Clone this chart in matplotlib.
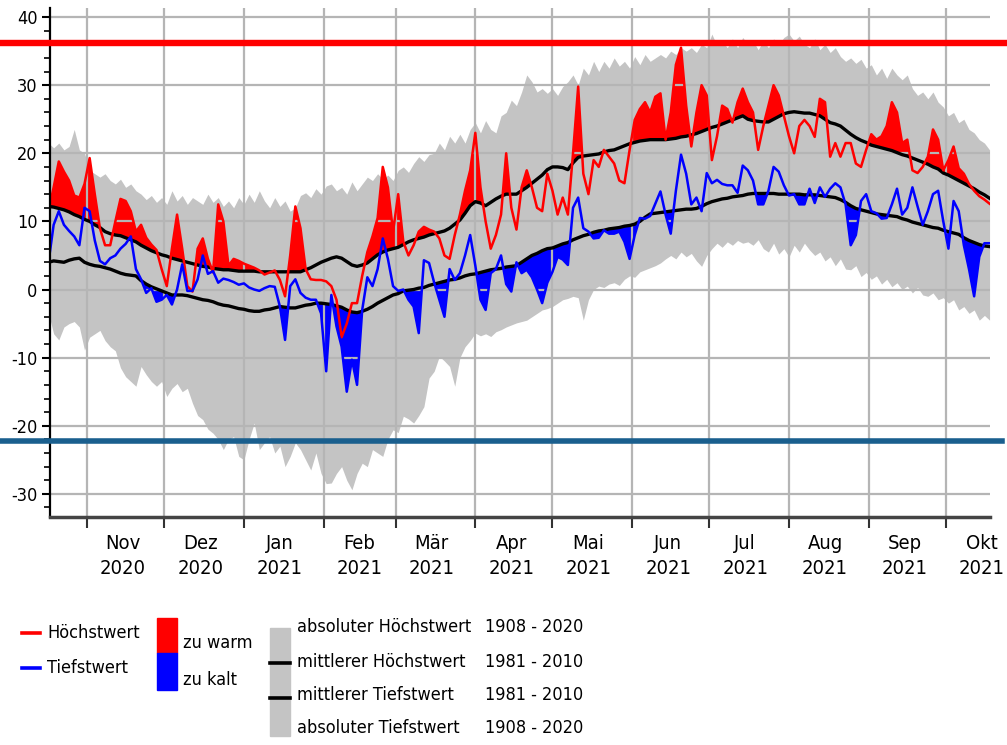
import matplotlib
matplotlib.use("Agg")
import matplotlib.pyplot as plt
import matplotlib.dates as mdates
from matplotlib.lines import Line2D
from matplotlib.patches import Rectangle
from matplotlib.ticker import MultipleLocator
import pandas as pd

plt.rcParams["font.family"] = ["DejaVu Sans"]
plt.rcParams["font.stretch"] = "condensed"
plt.rcParams["axes.unicode_minus"] = False

# every second day, 17 Oct 2020 .. 18 Oct 2021
days = pd.date_range("2020-10-17", periods=184, freq="2D")

mean_max = [
    12.2, 12.1, 11.9, 11.7, 11.4, 11.0, 10.7, 10.3, 10.0, 9.5,
    9.1, 8.5, 8.2, 8.0, 7.9, 7.6, 7.3, 7.0, 6.5, 6.1,
    5.7, 5.4, 5.1, 4.9, 4.6, 4.4, 4.2, 4.0, 3.8, 3.6,
    3.4, 3.3, 3.1, 3.0, 2.9, 2.9, 2.8, 2.7, 2.7, 2.7,
    2.7, 2.6, 2.6, 2.6, 2.6, 2.6, 2.6, 2.6, 2.6, 2.6,
    2.9, 3.2, 3.6, 4.0, 4.3, 4.6, 4.8, 4.6, 4.1, 3.6,
    3.4, 3.6, 3.9, 4.5, 5.1, 5.5, 5.8, 6.0, 6.2, 6.6,
    7.0, 7.3, 7.5, 7.7, 8.0, 8.2, 8.4, 8.6, 9.0, 9.6,
    10.2, 11.2, 12.3, 12.9, 12.7, 12.3, 12.8, 13.3, 13.7, 14.0,
    14.0, 14.0, 14.5, 15.0, 15.6, 16.2, 16.8, 17.6, 18.0, 18.0,
    17.9, 17.6, 18.6, 19.4, 19.6, 19.7, 19.8, 19.9, 20.2, 20.4,
    20.5, 20.8, 21.1, 21.4, 21.6, 21.8, 21.9, 22.0, 22.0, 22.0,
    22.0, 22.1, 22.2, 22.4, 22.5, 22.7, 22.9, 23.2, 23.5, 23.8,
    24.0, 24.3, 24.6, 24.9, 25.2, 25.5, 25.0, 24.8, 24.7, 24.6,
    24.6, 25.0, 25.4, 25.8, 26.0, 26.1, 26.0, 25.9, 25.9, 25.7,
    25.5, 25.0, 24.5, 24.3, 24.0, 23.4, 22.8, 22.3, 21.9, 21.6,
    21.2, 21.0, 20.8, 20.6, 20.4, 20.1, 19.8, 19.6, 19.3, 19.0,
    18.7, 18.4, 18.0, 17.7, 17.1, 16.8, 16.4, 16.0, 15.6, 15.2,
    14.8, 14.3, 13.9, 13.4,
]

mean_min = [
    4.0, 4.2, 4.1, 4.0, 4.3, 4.5, 4.6, 4.0, 3.7, 3.5,
    3.4, 3.2, 3.0, 2.7, 2.4, 2.2, 2.1, 2.0, 1.3, 0.8,
    0.4, 0.1, -0.2, -0.5, -0.8, -0.8, -0.8, -0.9, -1.1, -1.3,
    -1.5, -1.6, -1.8, -2.1, -2.3, -2.4, -2.6, -2.8, -2.9, -3.1,
    -3.2, -3.2, -3.0, -2.9, -2.7, -2.5, -2.6, -2.7, -2.7, -2.5,
    -2.3, -2.2, -2.0, -2.0, -2.1, -2.2, -2.4, -2.6, -3.0, -3.3,
    -3.4, -3.2, -2.9, -2.5, -2.0, -1.6, -1.2, -0.8, -0.6, -0.2,
    -0.1, 0.0, 0.2, 0.3, 0.6, 0.8, 1.0, 1.2, 1.4, 1.5,
    1.7, 2.0, 2.2, 2.3, 2.5, 2.7, 2.9, 3.0, 3.1, 3.3,
    3.4, 3.5, 4.0, 4.5, 5.0, 5.3, 5.7, 6.0, 6.1, 6.4,
    6.7, 6.9, 7.3, 7.6, 7.9, 8.1, 8.4, 8.6, 8.7, 8.9,
    9.0, 9.1, 9.3, 9.4, 9.6, 10.0, 10.6, 11.1, 11.2, 11.3,
    11.4, 11.5, 11.6, 11.7, 11.8, 11.8, 11.9, 12.2, 12.6, 12.9,
    13.1, 13.3, 13.4, 13.6, 13.7, 13.8, 14.0, 14.1, 14.1, 14.1,
    14.1, 14.1, 14.0, 14.0, 14.0, 14.0, 14.0, 13.9, 13.9, 13.9,
    13.8, 13.7, 13.6, 13.5, 13.2, 12.8, 12.3, 11.9, 11.7, 11.5,
    11.3, 11.1, 11.0, 10.9, 10.8, 10.7, 10.4, 10.2, 9.9, 9.7,
    9.5, 9.3, 9.1, 9.0, 8.7, 8.5, 8.3, 8.1, 7.6, 7.2,
    6.9, 6.6, 6.4, 6.3,
]

t_max = [
    11.5, 15.0, 18.8, 17.3, 16.0, 13.8, 13.5, 15.5, 19.3, 14.0,
    9.0, 6.5, 6.5, 10.0, 13.3, 13.0, 11.5, 8.5, 9.5, 7.6,
    6.6, 5.8, 3.0, 0.5, 6.0, 11.0, 6.0, 0.5, -0.3, 6.0,
    7.5, 4.5, 2.5, 12.5, 10.0, 3.5, 4.5, 4.2, 3.8, 3.5,
    3.2, 2.8, 2.2, 2.5, 2.8, 1.4, -1.0, 5.0, 12.2, 9.0,
    3.0, 1.5, 1.4, 1.4, 1.2, 0.5, -1.5, -7.0, -5.0, -2.0,
    -2.0, 2.0, 5.5, 7.8, 10.5, 18.0, 15.0, 8.5, 14.0, 7.0,
    5.0, 6.5, 8.5, 9.2, 8.8, 8.5, 7.5, 5.0, 4.5, 8.0,
    11.0, 14.5, 17.5, 23.0, 15.0, 10.0, 6.0, 8.0, 11.0, 20.0,
    12.0, 8.8, 15.0, 17.5, 15.0, 12.0, 11.5, 17.0, 14.5, 11.0,
    13.5, 11.0, 20.0, 29.8, 17.0, 14.0, 19.0, 18.0, 20.5, 19.5,
    18.5, 16.0, 15.6, 20.5, 24.9, 26.5, 27.5, 26.0, 28.3, 28.8,
    22.0, 26.0, 33.0, 35.5, 27.0, 21.0, 26.0, 30.0, 28.5, 19.0,
    22.5, 27.0, 26.5, 24.5, 27.5, 29.5, 27.5, 26.0, 20.5, 24.0,
    27.0, 30.0, 28.5, 25.5, 22.5, 20.0, 24.0, 24.9, 24.0, 22.4,
    28.0, 27.5, 19.5, 21.5, 19.5, 21.5, 21.5, 18.5, 18.0, 20.5,
    22.8, 22.0, 22.5, 24.0, 27.5, 26.0, 21.5, 22.0, 17.5, 17.1,
    18.0, 19.5, 23.5, 22.0, 17.5, 19.0, 21.0, 17.8, 17.0, 15.5,
    14.5, 13.7, 13.2, 12.6,
]

t_min = [
    4.0, 9.5, 11.5, 9.5, 8.6, 7.8, 6.5, 12.0, 11.5, 7.2,
    4.2, 3.7, 4.6, 5.0, 6.0, 6.7, 7.8, 3.0, 1.5, -0.5,
    0.2, -1.8, -1.5, -0.8, -2.2, 0.0, 3.7, -0.2, -0.2, 1.5,
    5.0, 2.3, 2.7, 1.0, 1.6, 1.4, 1.1, 0.7, 0.9, 0.3,
    0.0, -0.2, 0.2, 0.5, 0.4, -2.5, -7.4, 0.5, 1.5, -0.5,
    -1.2, -1.5, -1.5, -3.5, -12.0, -0.8, -5.4, -8.4, -15.0, -10.3,
    -14.0, -3.0, 1.8, 0.5, 3.0, 7.5, 4.5, 0.5, -0.2, 0.0,
    -1.5, -2.5, -6.4, 4.3, 3.9, 1.0, -1.5, -4.0, 3.0, 1.4,
    2.4, 5.0, 8.0, 3.5, -1.5, -3.0, 2.4, 3.0, 5.0, 0.8,
    -0.3, 4.0, 2.4, 2.9, 1.8, 0.0, -2.0, 1.0, 2.6, 4.8,
    4.4, 3.6, 12.0, 13.5, 9.0, 8.5, 7.5, 7.6, 8.7, 8.2,
    8.2, 8.5, 7.0, 4.5, 8.0, 10.5, 10.4, 10.8, 12.6, 14.4,
    11.0, 8.2, 14.5, 19.8, 17.0, 12.5, 13.5, 11.5, 17.1, 15.6,
    16.1, 15.5, 15.3, 15.3, 14.2, 18.2, 17.5, 16.0, 12.5, 12.5,
    14.5, 18.0, 17.3, 15.3, 13.8, 14.0, 12.5, 12.5, 14.8, 12.7,
    15.0, 13.6, 14.8, 15.6, 15.0, 12.5, 6.5, 8.0, 13.0, 14.0,
    11.5, 11.2, 10.4, 10.5, 12.5, 14.8, 11.0, 12.0, 15.0, 12.2,
    9.5, 11.5, 14.0, 14.5, 10.0, 6.0, 13.0, 11.5, 6.5, 3.0,
    -1.0, 4.8, 6.8, 6.8,
]

abs_max = [
    21.5, 20.8, 21.5, 20.5, 21.0, 23.5, 20.5, 20.0, 17.5, 17.0,
    16.5, 17.0, 16.0, 15.5, 16.2, 15.0, 15.5, 14.5, 14.0, 13.2,
    13.8, 12.8, 13.5, 12.5, 14.5, 13.0, 13.8, 12.5, 13.5, 13.0,
    12.5, 14.0, 12.8, 13.5, 12.2, 13.0, 12.0, 13.5, 12.5, 14.0,
    12.8, 14.5, 13.0, 12.0, 13.5, 12.2, 13.0, 11.5, 12.0, 13.8,
    14.2, 13.5, 14.8, 14.0, 15.2, 15.5, 14.5, 15.0, 14.0, 15.8,
    14.5, 15.5, 16.5, 16.0, 17.0, 16.2, 16.8, 16.0, 17.5, 18.0,
    17.2, 18.5, 19.5, 18.8, 19.8, 20.0, 21.5, 20.5, 22.5, 21.5,
    22.8, 21.5, 23.5, 24.5, 23.0, 24.8, 23.5, 23.0, 25.5, 26.0,
    27.8, 27.0, 29.0, 31.5, 30.5, 29.0, 29.5, 28.8, 29.5, 28.5,
    29.8, 30.5, 31.5, 30.0, 32.5, 31.5, 33.5, 32.0, 33.5, 32.5,
    34.0, 32.8, 33.5, 32.5, 34.2, 33.0, 34.5, 33.5, 34.0, 34.5,
    34.0, 35.0, 34.5, 35.5, 35.0, 35.5, 34.8, 36.0, 35.5, 37.5,
    35.8, 36.5, 35.5, 36.8, 35.5, 37.0, 36.0, 36.5, 35.2, 36.5,
    35.5, 36.8, 36.0, 37.0, 37.5, 36.5, 37.2, 36.0, 35.5, 36.8,
    35.2, 36.0, 34.8, 35.5, 34.2, 33.5, 34.0, 33.2, 33.8, 32.5,
    33.0, 31.5, 32.5, 31.0, 32.5, 31.5, 30.8, 31.5, 29.5, 28.5,
    29.0, 28.0, 29.0, 27.5, 26.8, 25.5, 26.0, 24.5, 25.0, 23.5,
    23.0, 22.0, 21.5, 20.5,
]

abs_min = [
    -3.5, -6.5, -7.4, -5.5, -5.0, -4.7, -5.5, -8.9, -7.0, -6.5,
    -6.0, -7.5, -8.4, -9.0, -11.5, -12.8, -13.5, -14.2, -11.3, -12.5,
    -13.5, -14.2, -13.5, -15.7, -14.5, -13.8, -15.0, -14.5, -16.7, -18.5,
    -19.1, -20.5, -21.1, -22.0, -23.5, -22.0, -21.6, -24.5, -25.0, -22.0,
    -19.6, -23.5, -22.5, -21.6, -24.0, -23.0, -26.0, -24.5, -22.5, -23.5,
    -25.0, -26.5, -24.0, -27.0, -28.5, -28.4, -27.0, -26.0, -28.0, -29.4,
    -27.0, -25.5, -26.0, -23.5, -24.0, -24.5, -22.0, -20.6, -21.0, -18.6,
    -19.0, -19.6, -18.5, -17.2, -13.0, -12.0, -9.8, -10.5, -11.3, -14.2,
    -10.0, -8.4, -7.5, -6.4, -6.8, -6.5, -6.9, -6.2, -5.9, -5.5,
    -5.2, -4.9, -4.7, -4.5, -4.0, -3.5, -3.0, -2.8, -2.5, -2.0,
    -1.5, -1.3, -1.0, -1.2, -4.5, -1.5, 0.0, 0.5, 0.3, 0.8,
    1.0, 0.6, 1.5, 2.0, 1.8, 2.6, 2.9, 3.2, 3.5, 3.9,
    4.5, 5.0, 4.5, 5.5, 4.8, 5.3, 4.2, 3.4, 5.0, 6.0,
    6.8, 6.2, 7.0, 6.5, 7.2, 6.8, 7.0, 6.5, 7.3, 6.0,
    5.5, 6.8, 5.2, 6.0, 4.8, 6.5, 5.5, 6.8, 5.8, 5.0,
    5.5, 4.2, 4.8, 3.5, 4.5, 3.0, 2.9, 3.5, 1.9, 2.5,
    1.5, 2.0, 0.8, 1.5, 0.4, 1.0, 0.0, 0.5, -0.5, 0.3,
    -0.8, -1.0, -0.5, -1.5, -1.2, -2.0, -1.5, -3.0, -2.5, -3.5,
    -3.0, -4.5, -3.8, -4.5,
]

month_names = ["Nov", "Dez", "Jan", "Feb", "Mär", "Apr",
               "Mai", "Jun", "Jul", "Aug", "Sep", "Okt"]
month_years = ["2020", "2020", "2021", "2021", "2021", "2021",
               "2021", "2021", "2021", "2021", "2021", "2021"]

# record lines across the whole sheet
record_high = 36.2
record_low = -22.2

legend_rows = ["absoluter Höchstwert", "mittlerer Höchstwert",
               "mittlerer Tiefstwert", "absoluter Tiefstwert"]
legend_years = ["1908 - 2020", "1981 - 2010", "1981 - 2010", "1908 - 2020"]


def main() -> None:
    fig = plt.figure(figsize=(10.07, 7.45), dpi=100)
    ax = fig.add_axes([0.0497, 0.306, 0.9335, 0.683])

    # climate band, then the warm/cold deviations
    ax.fill_between(days, abs_min, abs_max, color="#c4c4c4", lw=0,
                    zorder=0.8)
    hi = pd.Series(t_max)
    lo = pd.Series(t_min)
    mx = pd.Series(mean_max)
    mn = pd.Series(mean_min)
    ax.fill_between(days, hi, mx, where=hi >= mx, interpolate=True,
                    color="#ff0000", lw=0, zorder=1)
    ax.fill_between(days, lo, mn, where=lo <= mn, interpolate=True,
                    color="#0000ff", lw=0, zorder=1)

    ax.plot(days, mean_max, color="black", lw=2.4, zorder=2)
    ax.plot(days, mean_min, color="black", lw=2.4, zorder=2)
    ax.plot(days, t_max, color="#ff0000", lw=1.8, zorder=2.5)
    ax.plot(days, t_min, color="#0000ff", lw=1.8, zorder=2.5)

    start = mdates.date2num(pd.Timestamp("2020-10-17"))
    ax.set_xlim(start + 0.6, start + 366.2)
    ax.set_ylim(-33.4, 41.3)

    month_starts = pd.date_range("2020-11-01", "2021-10-01", freq="MS")
    month_mids = month_starts + pd.Timedelta(days=14)
    ax.set_xticks(month_starts)
    ax.set_xticklabels([""] * len(month_starts))
    ax.set_xticks(month_mids, minor=True)
    ax.set_xticklabels([f"{m}\n{y}" for m, y in zip(month_names, month_years)],
                       minor=True, fontsize=14.5, linespacing=1.4)
    ax.tick_params(axis="x", which="major", length=8, width=1.5,
                   color="#333333")
    ax.tick_params(axis="x", which="minor", length=0, pad=12)

    ax.set_yticks(range(-30, 41, 10))
    ax.yaxis.set_minor_locator(MultipleLocator(2))
    ax.tick_params(axis="y", which="major", length=6, width=1.5,
                   labelsize=13, pad=3)
    ax.tick_params(axis="y", which="minor", length=4, width=1.2)

    ax.set_axisbelow("line")
    ax.grid(True, which="major", color="#b5b5b5", lw=1.6)
    for side in ("top", "right"):
        ax.spines[side].set_visible(False)
    ax.spines["left"].set_linewidth(1.6)
    ax.spines["bottom"].set_linewidth(2.5)
    ax.spines["bottom"].set_color("#444444")

    ax.axhline(record_high, xmin=-0.0532, xmax=1.018, color="#ff0000",
               lw=4.6, clip_on=False, zorder=6)
    ax.axhline(record_low, xmin=-0.0532, xmax=1.013, color="#1a5f8e",
               lw=4.0, clip_on=False, zorder=6)

    # legend below the chart
    tf = fig.transFigure
    fs = 13
    fig.add_artist(Line2D([0.022, 0.040], [0.150, 0.150], color="#ff0000",
                          lw=2.6, transform=tf))
    fig.text(0.0467, 0.150, "Höchstwert", va="center", fontsize=fs)
    fig.add_artist(Line2D([0.022, 0.040], [0.103, 0.103], color="#0000ff",
                          lw=2.6, transform=tf))
    fig.text(0.0467, 0.103, "Tiefstwert", va="center", fontsize=fs)

    fig.add_artist(Rectangle((0.156, 0.1235), 0.020, 0.047,
                             color="#ff0000", transform=tf))
    fig.add_artist(Rectangle((0.156, 0.0738), 0.020, 0.0497,
                             color="#0000ff", transform=tf))
    fig.text(0.182, 0.137, "zu warm", va="center", fontsize=fs)
    fig.text(0.182, 0.087, "zu kalt", va="center", fontsize=fs)

    fig.add_artist(Rectangle((0.268, 0.012), 0.020, 0.145,
                             color="#c4c4c4", transform=tf))
    for yy in (0.110, 0.063):
        fig.add_artist(Line2D([0.268, 0.288], [yy, yy], color="black",
                              lw=2.6, transform=tf))
    for yy, label, years in zip((0.158, 0.111, 0.067, 0.023),
                                legend_rows, legend_years):
        fig.text(0.295, yy, label, va="center", fontsize=fs)
        fig.text(0.4816, yy, years, va="center", fontsize=fs)

    fig.savefig("out.png", dpi=100)


if __name__ == "__main__":
    main()
